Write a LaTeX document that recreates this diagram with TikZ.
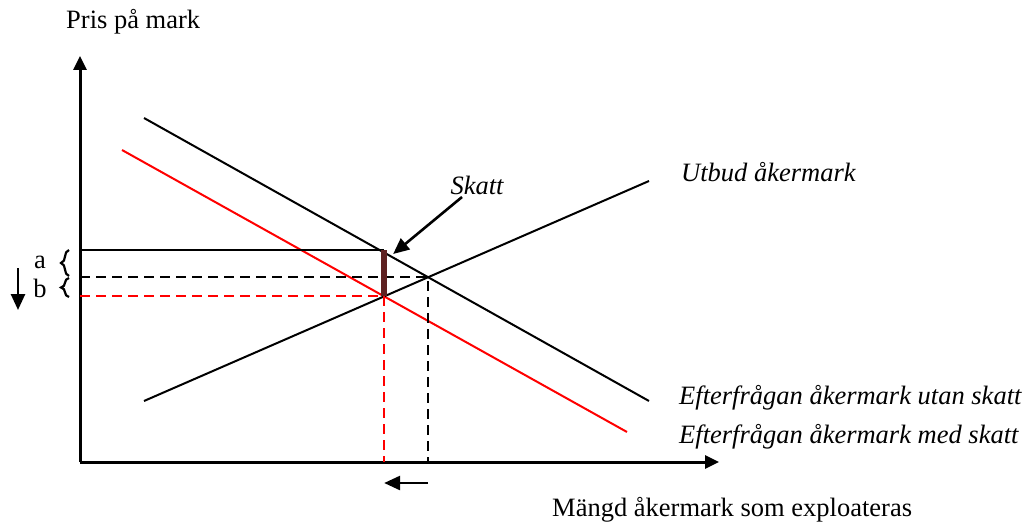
\documentclass[tikz,border=0pt]{standalone}
\usepackage{fontspec}
\setmainfont{Liberation Serif}
\usetikzlibrary{arrows.meta,decorations.pathreplacing}
\definecolor{skattbar}{HTML}{5E2121}

\begin{document}
\begin{tikzpicture}[x=1pt, y=-1pt,
		every node/.style={font=\fontsize{26.5}{30}\selectfont, inner sep=0pt},
		axis/.style={line width=3pt, -{Triangle[length=14pt, width=13pt]}},
		curve/.style={line width=2pt},
		guide/.style={line width=2pt, dash pattern=on 10pt off 6pt},
		marker/.style={line width=2.6pt, -{Triangle[length=16pt, width=14pt]}},
		lbl/.style={font=\fontsize{26.5}{30}\selectfont\itshape, anchor=west},
		brc/.style={decorate, decoration={brace, amplitude=8pt}, line width=2.2pt},
		]
		\useasboundingbox (0,0) rectangle (1027,524);

		% ---- Axlar ----
		\coordinate (O) at (80,462);
		\draw[axis] (O) -- (80,56);
		\draw[axis] (O) -- (719,462);
		\node[anchor=west] (ylab) at (66,22) {Pris på mark};
		\node[anchor=west] (xlab) at (552,510) {Mängd åkermark som exploateras};

		% ---- Kurvor ----
		\coordinate (d1) at (144,118);  \coordinate (d2) at (649,401);
		\coordinate (r1) at (122,150);  \coordinate (r2) at (627,432);
		\coordinate (s1) at (144,401);  \coordinate (s2) at (649,181);
		\draw[curve] (d1) -- (d2);
		\draw[curve, red] (r1) -- (r2);
		\draw[curve] (s1) -- (s2);

		\coordinate (E0) at (intersection of d1--d2 and s1--s2);
		\coordinate (E1) at (intersection of r1--r2 and s1--s2);
		\coordinate (Pd) at (E1 |- 0,250);

		\node[lbl] (utbud) at (681,172) {Utbud åkermark};
		\node[lbl] (utan) at (679,398) {Efterfrågan åkermark utan skatt};
		\node[lbl] (med) at (679,437) {Efterfrågan åkermark med skatt};

		% ---- Hjälplinjer ----
		\draw[curve] (O |- Pd) -- (Pd);
		\draw[guide] (O |- E0) -- (E0) -- (E0 |- O);
		\draw[guide, red] (O |- E1) -- (E1) -- (E1 |- O);

		% ---- Skatt ----
		\draw[skattbar, line width=6pt] (Pd) -- (E1);
		\node[lbl, anchor=center] (skatt) at (477,185) {Skatt};
		\draw[marker] (462,197) -- ([xshift=9pt, yshift=-4pt]Pd);

		% ---- a och b ----
		\draw[brc] (69,276) -- (69,250);
		\draw[brc] (69,297) -- (69,278);
		\node (a) at (40,262) {a};
		\node (b) at (40,288) {b};
		\draw[marker] (18,268) -- (18,310);
		\draw[marker] (E0 |- 0,483) -- (E1 |- 0,483);

	\end{tikzpicture}
\end{document}
